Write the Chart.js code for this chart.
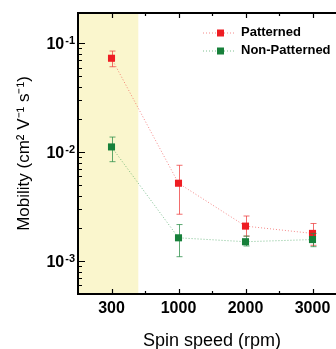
<!DOCTYPE html>
<html>
<head>
<meta charset="utf-8">
<script src="https://cdn.jsdelivr.net/npm/chart.js@4/dist/chart.umd.min.js"></script>
<style>
  html, body { margin: 0; padding: 0; background: #fff; overflow: hidden; }
  #wrap { width: 360px; height: 349px; }
</style>
</head>
<body>
<div id="wrap"><canvas id="mob" width="360" height="349"></canvas></div>
<script>
// spin speeds (rpm)
const speeds = ['300', '1000', '2000', '3000'];

// mobility, cm2 V-1 s-1
const patterned = [0.073, 0.0052, 0.0021, 0.0018];
const patternedHi = [0.085, 0.0076, 0.0026, 0.00222];
const patternedLo = [0.061, 0.0027, 0.0017, 0.0014];

const nonPatterned = [0.0112, 0.00164, 0.00151, 0.00158];
const nonPatternedHi = [0.0138, 0.00217, 0.0017, 0.0018];
const nonPatternedLo = [0.0082, 0.0011, 0.00138, 0.00136];

const yMajor = [0.001, 0.01, 0.1];
const yMajorExp = ['-3', '-2', '-1'];

const RED = '#ee1d23';
const GREEN = '#17803a';
const FONT = '"Liberation Sans", Arial, sans-serif';

const errors = [
  { hi: patternedHi, lo: patternedLo, color: 'rgba(238,60,60,0.75)' },
  { hi: nonPatternedHi, lo: nonPatternedLo, color: 'rgba(40,140,70,0.75)' }
];

// yellow band behind the 300 rpm point
const shade = {
  id: 'shade',
  beforeDatasetsDraw(chart) {
    const { ctx, chartArea, scales } = chart;
    const x0 = scales.x.getPixelForValue(-0.5);
    const x1 = scales.x.getPixelForValue(0.4);
    ctx.save();
    ctx.fillStyle = '#faf6cd';
    ctx.fillRect(x0, chartArea.top, x1 - x0, chartArea.bottom - chartArea.top);
    ctx.restore();
  }
};

const errorBars = {
  id: 'errorBars',
  beforeDatasetDraw(chart, args) {
    const e = errors[args.index];
    const { ctx, scales } = chart;
    ctx.save();
    ctx.strokeStyle = e.color;
    ctx.lineWidth = 1;
    e.hi.forEach((hi, i) => {
      const x = Math.round(scales.x.getPixelForValue(i)) + 0.5;
      const yh = scales.y.getPixelForValue(hi);
      const yl = scales.y.getPixelForValue(e.lo[i]);
      ctx.beginPath();
      ctx.moveTo(x, yh); ctx.lineTo(x, yl);
      ctx.moveTo(x - 3, yh); ctx.lineTo(x + 3, yh);
      ctx.moveTo(x - 3, yl); ctx.lineTo(x + 3, yl);
      ctx.stroke();
    });
    ctx.restore();
  }
};

// frame, inward ticks, y labels with superscripts, legend
const frame = {
  id: 'frame',
  afterDraw(chart) {
    const { ctx, chartArea: a, scales } = chart;
    ctx.save();
    ctx.strokeStyle = '#000';
    ctx.lineWidth = 2;
    ctx.strokeRect(a.left, a.top, a.right - a.left, a.bottom - a.top);

    ctx.lineWidth = 1.2;
    ctx.beginPath();
    for (let i = 0; i < speeds.length; i++) {
      for (const [v, len] of [[i, 5], [i + 0.5, 3]]) {
        const x = Math.round(scales.x.getPixelForValue(v)) + 0.5;
        ctx.moveTo(x, a.bottom); ctx.lineTo(x, a.bottom - len);
        ctx.moveTo(x, a.top); ctx.lineTo(x, a.top + len);
      }
    }
    for (let d = -4; d <= -1; d++) {
      for (let m = 1; m <= 9; m++) {
        const v = m * Math.pow(10, d);
        if (v < scales.y.min || v > scales.y.max) continue;
        const y = Math.round(scales.y.getPixelForValue(v)) + 0.5;
        const len = m === 1 ? 7 : 4;
        ctx.moveTo(a.left, y); ctx.lineTo(a.left + len, y);
      }
    }
    ctx.stroke();

    ctx.fillStyle = '#000';
    ctx.textBaseline = 'alphabetic';
    yMajor.forEach((v, i) => {
      const y = scales.y.getPixelForValue(v);
      ctx.font = 'bold 11px ' + FONT;
      const sw = ctx.measureText(yMajorExp[i]).width;
      ctx.textAlign = 'left';
      ctx.fillText(yMajorExp[i], a.left - 3 - sw, y + 0.5);
      ctx.font = 'bold 16px ' + FONT;
      ctx.textAlign = 'right';
      ctx.fillText('10', a.left - 4 - sw, y + 6);
    });

    const items = [['Patterned', RED, 'rgba(238,60,60,0.6)'], ['Non-Patterned', GREEN, 'rgba(40,150,70,0.6)']];
    items.forEach(([label, col, lineCol], i) => {
      const y = 32.5 + i * 18;
      ctx.strokeStyle = lineCol;
      ctx.lineWidth = 1;
      ctx.setLineDash([1, 2]);
      ctx.beginPath();
      ctx.moveTo(203, y + 0.5); ctx.lineTo(236, y + 0.5);
      ctx.stroke();
      ctx.setLineDash([]);
      ctx.fillStyle = col;
      ctx.fillRect(217, y - 3, 7, 7);
      ctx.fillStyle = '#000';
      ctx.font = 'bold 13px ' + FONT;
      ctx.textAlign = 'left';
      ctx.textBaseline = 'middle';
      ctx.fillText(label, 241, y);
    });
    ctx.restore();
  }
};

new Chart(document.getElementById('mob'), {
  type: 'line',
  data: {
    labels: speeds,
    datasets: [
      {
        label: 'Patterned',
        data: patterned,
        order: 1,
        borderColor: 'rgba(238,60,60,0.6)',
        borderWidth: 1,
        borderDash: [1, 2],
        pointStyle: 'rect',
        pointRadius: 5,
        pointBackgroundColor: RED,
        pointBorderWidth: 0
      },
      {
        label: 'Non-Patterned',
        data: nonPatterned,
        order: 0,
        borderColor: 'rgba(40,150,70,0.6)',
        borderWidth: 1,
        borderDash: [1, 2],
        pointStyle: 'rect',
        pointRadius: 5,
        pointBackgroundColor: GREEN,
        pointBorderWidth: 0
      }
    ]
  },
  options: {
    responsive: false,
    animation: false,
    layout: { padding: { top: 13, right: 14, left: 0, bottom: 0 } },
    plugins: { legend: { display: false }, tooltip: { enabled: false } },
    scales: {
      x: {
        type: 'category',
        offset: true,
        grid: { display: false, drawTicks: false },
        border: { display: false },
        ticks: { color: '#000', padding: 5, font: { family: FONT, size: 16, weight: 'bold' } },
        title: {
          display: true,
          text: 'Spin speed (rpm)',
          color: '#000',
          padding: { top: 0, bottom: -3 },
          font: { family: FONT, size: 18 }
        },
        afterFit(s) { s.height = 55; }
      },
      y: {
        type: 'logarithmic',
        min: 0.0005,
        max: 0.19,
        grid: { display: false, drawTicks: false },
        border: { display: false },
        ticks: { display: false },
        title: {
          display: true,
          text: 'Mobility (cm² V⁻¹ s⁻¹)',
          color: '#000',
          padding: { top: 14, bottom: 0 },
          font: { family: FONT, size: 17 }
        },
        afterFit(s) { s.width = 78; }
      }
    }
  },
  plugins: [shade, errorBars, frame]
});
</script>
</body>
</html>
